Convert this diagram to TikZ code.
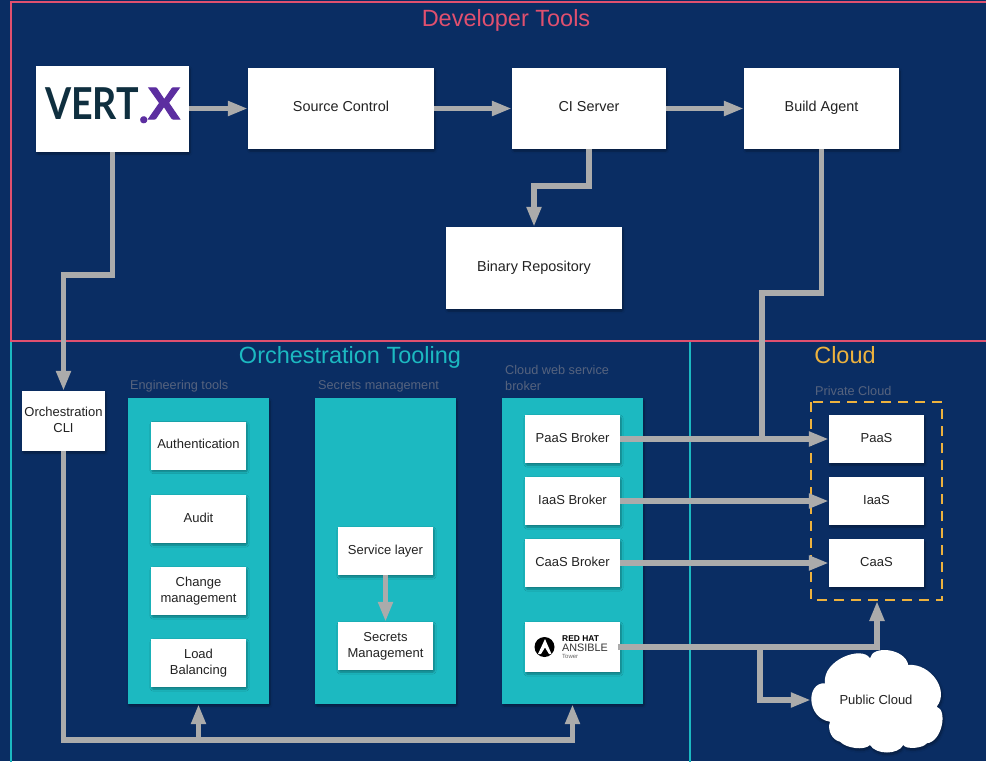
\documentclass[tikz,border=0pt]{standalone}
\usepackage{fontspec}
\setmainfont{Liberation Sans}
\newfontfamily\logofont{Lato}
\newfontfamily\logoheavy[BoldFeatures={FakeBold=2.5}]{Lato}
\usetikzlibrary{arrows.meta,shadows,shadows.blur,positioning}
\definecolor{navy}{HTML}{0A2D63}
\definecolor{tealc}{HTML}{1CB9C1}
\definecolor{pinkc}{HTML}{E0506F}
\definecolor{orangec}{HTML}{EDB23E}
\definecolor{greyc}{HTML}{ABABAB}
\definecolor{subc}{HTML}{56637E}
\definecolor{labelc}{HTML}{222222}
\definecolor{vertc}{HTML}{0F2F3F}
\definecolor{purplec}{HTML}{5C2EA0}
\newcommand\up[1]{\raisebox{.4pt}[.75em][.2em]{#1}}
\newcommand\upp[1]{\raisebox{1.3pt}[.75em][.2em]{#1}}
\tikzset{
  softshadow/.style={blur shadow={shadow xshift=1pt,shadow yshift=-2pt,shadow blur steps=6,shadow blur extra rounding=1pt,shadow opacity=35}},
  whitebox/.style={fill=white,draw=none,inner sep=0pt,align=center,text=labelc,font=\fontsize{14.4}{16}\selectfont,softshadow},
  smallbox/.style={whitebox,minimum width=95pt,minimum height=48pt,font=\fontsize{13}{16}\selectfont},
  bigbox/.style={whitebox,minimum height=81pt},
  panel/.style={fill=tealc,draw=none,inner sep=0pt,minimum width=141pt,minimum height=306pt,softshadow},
  frame/.style={draw=#1,line width=2.6pt,fill=none},
  title/.style={font=\fontsize{23.5}{28}\selectfont,inner sep=0pt},
  sub/.style={font=\fontsize{12.7}{16}\selectfont,text=subc,inner sep=0pt,anchor=west,align=left},
  conn/.style={draw=greyc,line width=5.5pt,-{Triangle[length=20pt,width=14pt]}},
  connplain/.style={draw=greyc,line width=5.5pt},
}
\begin{document}
\begin{tikzpicture}[x=1pt,y=-1pt]
\useasboundingbox[fill=navy] (0,0) rectangle (986,761);
% frames
\draw[frame=tealc] (11,341) rectangle (690,775);
\draw[frame=tealc] (690,341) rectangle (1000,775);
\draw[frame=pinkc] (11,2) rectangle (1000,341);
% titles
\node[title,text=pinkc] (t1) at (506,20) {Developer Tools};
\node[title,text=tealc] (t2) at (350,357) {Orchestration Tooling};
\node[title,text=orangec] (t3) at (845,355) {Cloud};
% sub labels
\node[sub] (s1) at (130,386) {Engineering tools};
\node[sub] (s2) at (318,386) {Secrets management};
\node[sub] (s3) at (505,378) {Cloud web service\\broker};
\node[sub] (s4) at (815,391) {Private Cloud};
% panels
\node[panel] (eng) at (198.5,551) {};
\node[panel] (sec) at (385.5,551) {};
\node[panel] (brk) at (572.5,551) {};
% top row
\node[whitebox,minimum width=153pt,minimum height=86pt] (vertx) at (112.5,109) {};
\node[inner sep=0pt,anchor=base west] (logo) at (45,119) {%
  {\logofont\bfseries\fontsize{44}{44}\selectfont\scalebox{.855}[1]{\textcolor{vertc}{VERT}}}%
  \raisebox{-3.5pt}[0pt][0pt]{\logoheavy\bfseries\fontsize{40}{40}\selectfont\textcolor{purplec}{.}}%
  {\logoheavy\bfseries\fontsize{43}{43}\selectfont\scalebox{1.08}[1]{\textcolor{purplec}{X}}}};
\node[bigbox,minimum width=186pt] (source) at (341,108.5) {\upp{Source Control}};
\node[bigbox,minimum width=154pt] (ci) at (589,108.5) {\upp{CI Server}};
\node[bigbox,minimum width=155pt] (build) at (821.5,108.5) {\upp{Build Agent}};
\node[bigbox,minimum width=176pt,minimum height=82pt] (bin) at (534,268) {\up{Binary Repository}};
\node[whitebox,minimum width=83pt,minimum height=60pt,font=\fontsize{13}{16}\selectfont] (cli) at (63.5,421) {\up{Orchestration}\\\up{CLI}};
% engineering
\node[smallbox] (auth) at (198.5,445.5) {\up{Authentication}};
\node[smallbox] (audit) at (198.5,519) {\up{Audit}};
\node[smallbox] (change) at (198.5,591) {\up{Change}\\\up{management}};
\node[smallbox] (load) at (198.5,663) {\up{Load}\\\up{Balancing}};
% secrets
\node[smallbox] (svc) at (385.5,551) {\up{Service layer}};
\node[smallbox] (smg) at (385.5,646) {\up{Secrets}\\\up{Management}};
% brokers
\node[smallbox] (pb) at (572.5,439) {\up{PaaS Broker}};
\node[smallbox] (ib) at (572.5,501) {\up{IaaS Broker}};
\node[smallbox] (cb) at (572.5,563) {\up{CaaS Broker}};
\node[smallbox,minimum height=50pt] (ans) at (572.5,647) {};
\fill[black] (544.5,647) circle (10);
\fill[white] (545,639) -- (551.5,654) -- (549,654) -- (545,647.5) -- (541,654) -- (538,654) -- cycle;
\node[inner sep=0pt,anchor=west,text=black,font=\fontsize{8.4}{9}\bfseries\selectfont] (rh) at (562,639) {RED HAT};
\node[inner sep=0pt,anchor=west,text=black!80,font=\fontsize{10.8}{11}\selectfont] (an) at (562,648) {ANSIBLE};
\node[inner sep=0pt,anchor=west,text=black!60,font=\fontsize{6}{6}\selectfont] (tw) at (562,656) {Tower};
% private cloud
\draw[orangec,line width=2.4pt,dash pattern=on 10pt off 7pt] (811,402) rectangle (942,600);
\coordinate (pcbottom) at (877,601);
\node[smallbox] (paas) at (876.5,439) {\up{PaaS}};
\node[smallbox] (iaas) at (876.5,501) {\up{IaaS}};
\node[smallbox] (caas) at (876.5,563) {\up{CaaS}};
% public cloud outline
\fill[white,softshadow] (825,683.3)
  .. controls (822,660) and (862,645) .. (870,658.3)
  .. controls (872,645) and (905,648) .. (908.3,665)
  .. controls (930,663) and (950,690) .. (936.7,706.7)
  .. controls (948,710) and (942,742) .. (926.7,743.3)
  .. controls (924,748) and (906,750) .. (903.3,745)
  .. controls (898,755) and (876,755) .. (870,745)
  .. controls (864,751) and (846,748) .. (840,741.7)
  .. controls (832,740) and (827,730) .. (830,721.7)
  .. controls (806,718) and (806,682) .. cycle;
\node[inner sep=0pt,minimum width=130pt,minimum height=90pt,text=labelc,font=\fontsize{13}{16}\selectfont] (pub) at (876,700) {Public Cloud};
% connectors
\draw[conn] (vertx.east |- source.west) -- (source.west);
\draw[conn] (source.east) -- (ci.west);
\draw[conn] (ci.east) -- (build.west);
\coordinate (cib) at (589,186);
\draw[conn] (ci.south) -- (cib) -| (bin.north);
\coordinate (vb) at (112.5,275);
\draw[conn] (vertx.south) -- (vb) -| (cli.north);
\coordinate (clib) at (63.5,740);
\draw[conn] (cli.south) -- (clib) -| (brk.south);
\coordinate (engb) at (eng.south |- clib);
\draw[conn] (engb) -- (eng.south);
\draw[conn] (svc.south) -- (smg.north);
\draw[conn] (pb.east) -- (paas.west);
\draw[conn] (ib.east) -- (iaas.west);
\draw[conn] (cb.east) -- (caas.west);
\coordinate (bb) at (821.5,293);
\coordinate (bj) at (762,439);
\draw[connplain,line join=miter] (build.south) -- (bb) -| (bj);
\draw[conn] ([xshift=-2pt]ans.east) -- (877,647) -- (pcbottom);
\coordinate (aj) at (760,645);
\draw[conn] (aj) |- (pub.west);
\end{tikzpicture}
\end{document}
